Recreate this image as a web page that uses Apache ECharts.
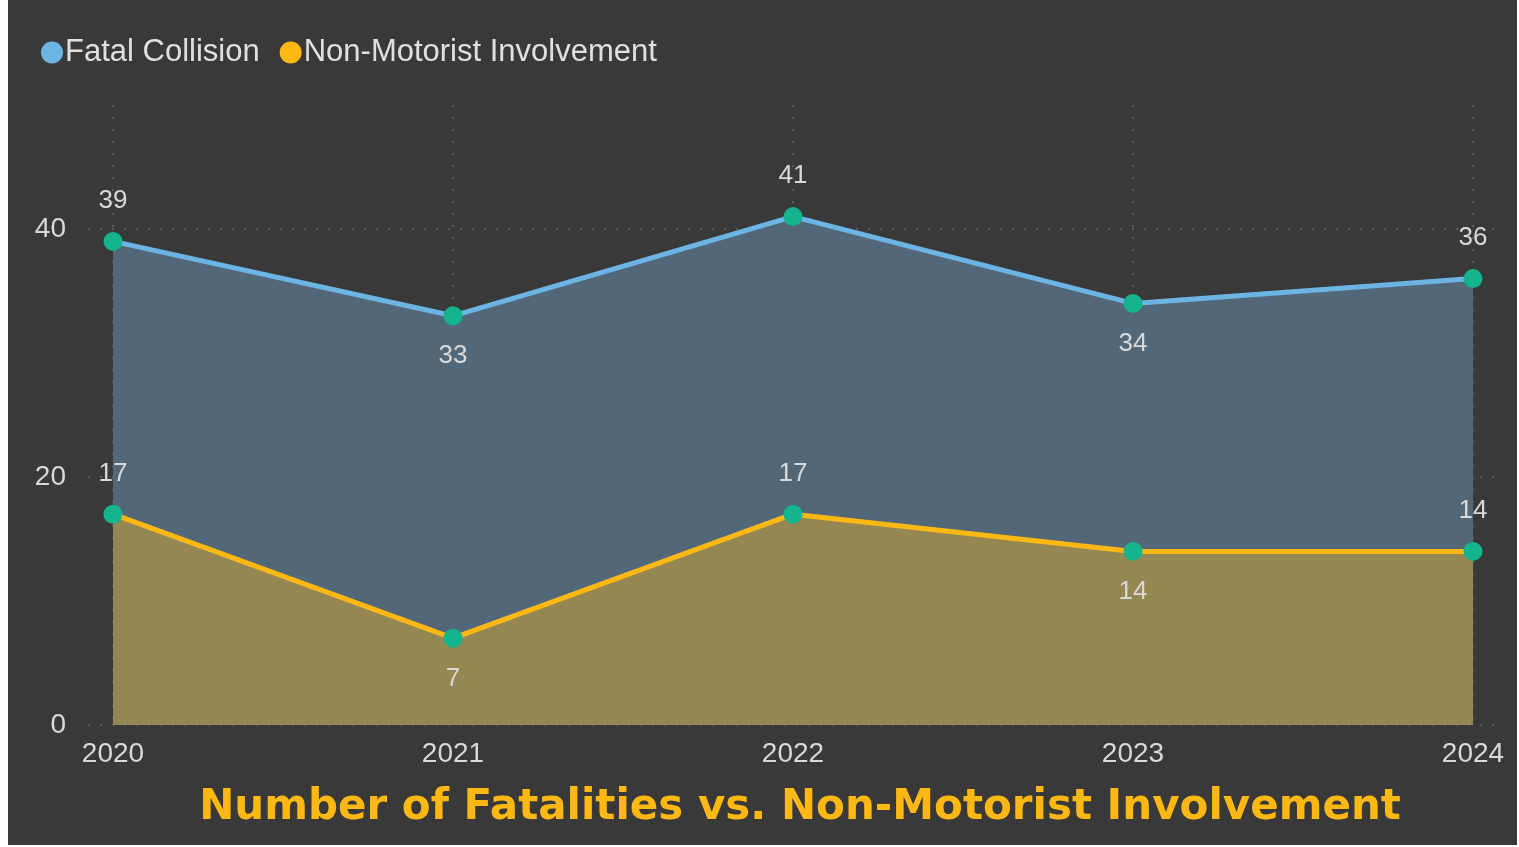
<!DOCTYPE html>
<html><head><meta charset="utf-8">
<script src="https://cdn.jsdelivr.net/npm/echarts@6/dist/echarts.min.js"></script>
<style>
html,body{margin:0;padding:0;background:#ffffff;width:1519px;height:847px;overflow:hidden;}
#c{position:absolute;left:8px;top:0;width:1509px;height:845px;background:#393939;}
</style></head>
<body><div id="c"></div>
<script>
const categories = ['2020','2021','2022','2023','2024'];
const fatalCollision = [39, 33, 41, 34, 36];
const nonMotorist = [17, 7, 17, 14, 14];
const fatalLabelPos = ['top','bottom','top','bottom','top'];
const nonMotoristLabelPos = ['top','bottom','top','bottom','top'];
const yTicks = {min: 0, max: 50, interval: 20};

const chart = echarts.init(document.getElementById('c'));
const labelStyle = {show:true, color:'#d9d9d9', fontSize:26, fontFamily:'Liberation Sans, Arial, sans-serif', distance:18};
const markerColor = '#14B48C';
function points(vals, pos){ return vals.map((v,i)=>({value:v, label:{position:pos[i]}, itemStyle:{color:markerColor}})); }
const dotted = {color:'#5a5a5a', type:[2,10], width:2};

chart.setOption({
  backgroundColor:'#393939',
  animation:false,
  title:{
    text:'Number of Fatalities vs. Non-Motorist Involvement',
    left:787, top:782, textAlign:'center',
    textStyle:{color:'#FDB813', fontSize:42, fontWeight:'bold', fontFamily:'DejaVu Sans, sans-serif'}
  },
  legend:{
    left:28, top:32, icon:'circle', itemWidth:22, itemHeight:22, itemGap:20,
    textStyle:{color:'#e0e0e0', fontSize:31, fontFamily:'Liberation Sans, sans-serif', padding:[0,0,0,-3]},
    data:['Fatal Collision','Non-Motorist Involvement']
  },
  grid:[
    {left:105, right:44, top:105, bottom:120},
    {left:80, right:22, top:105, bottom:120}
  ],
  xAxis:[
    {type:'category', gridIndex:0, data:categories, boundaryGap:false,
     axisLine:{show:false}, axisTick:{show:false},
     axisLabel:{color:'#d9d9d9', fontSize:28, margin:15, fontFamily:'Liberation Sans, Arial, sans-serif'},
     splitLine:{show:true, lineStyle:dotted}},
    {type:'value', gridIndex:1, show:false, min:0, max:1, splitLine:{show:false}}
  ],
  yAxis:[
    {type:'value', gridIndex:0, min:yTicks.min, max:yTicks.max, interval:yTicks.interval, show:false, splitLine:{show:false}},
    {type:'value', gridIndex:1, min:yTicks.min, max:yTicks.max, interval:yTicks.interval,
     axisLine:{show:false}, axisTick:{show:false},
     axisLabel:{color:'#d9d9d9', fontSize:28, margin:22, showMaxLabel:false, fontFamily:'Liberation Sans, Arial, sans-serif'},
     splitLine:{show:true, lineStyle:{color:['#5a5a5a','#5a5a5a','#5a5a5a','rgba(0,0,0,0)'], type:[2,10], width:2}}}
  ],
  series:[
    {name:'Fatal Collision', type:'line', xAxisIndex:0, yAxisIndex:0,
     data:points(fatalCollision, fatalLabelPos),
     symbol:'circle', symbolSize:19,
     itemStyle:{color:'#6CB4E4'},
     lineStyle:{color:'#6CB4E4', width:5},
     areaStyle:{color:'#526879', opacity:1},
     label:labelStyle, z:2},
    {name:'Non-Motorist Involvement', type:'line', xAxisIndex:0, yAxisIndex:0,
     data:points(nonMotorist, nonMotoristLabelPos),
     symbol:'circle', symbolSize:19,
     itemStyle:{color:'#FDB813'},
     lineStyle:{color:'#FDB813', width:5},
     areaStyle:{color:'#958752', opacity:1},
     label:labelStyle, z:3}
  ]
});
</script></body></html>
